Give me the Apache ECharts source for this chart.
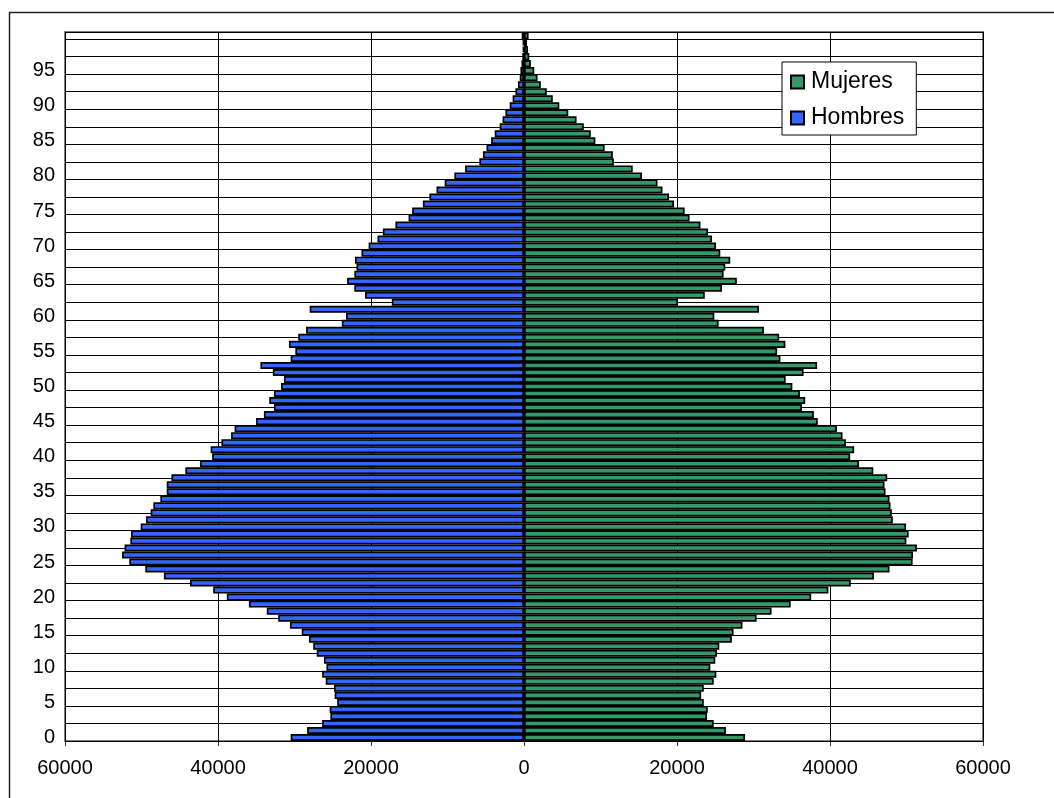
<!DOCTYPE html>
<html>
<head>
<meta charset="utf-8">
<title>Pirámide de población</title>
<script src="https://cdn.jsdelivr.net/npm/echarts@6/dist/echarts.min.js"></script>
<style>
  html, body { margin: 0; padding: 0; background: #ffffff; }
  #chart { width: 1054px; height: 798px; }
</style>
</head>
<body>
<div id="chart"></div>
<script>
// Single-year age groups, 0 to 100
const ages = [
  '0','1','2','3','4','5','6','7','8','9',
  '10','11','12','13','14','15','16','17','18','19',
  '20','21','22','23','24','25','26','27','28','29',
  '30','31','32','33','34','35','36','37','38','39',
  '40','41','42','43','44','45','46','47','48','49',
  '50','51','52','53','54','55','56','57','58','59',
  '60','61','62','63','64','65','66','67','68','69',
  '70','71','72','73','74','75','76','77','78','79',
  '80','81','82','83','84','85','86','87','88','89',
  '90','91','92','93','94','95','96','97','98','99',
  '100'
];

// Men per age (drawn to the left)
const hombres = [
  30500, 28350, 26390, 25310, 25400, 24420, 24750, 24840, 25920, 26390,
  25830, 26150, 27090, 27550, 28110, 29050, 30590, 32130, 33620, 35960,
  38850, 40630, 43660, 47070, 49500, 51600, 52540, 52210, 51460, 51370,
  50110, 49410, 48800, 48450, 47540, 46700, 46700, 46090, 44270, 42360,
  40770, 40960, 39550, 38290, 37830, 35030, 34000, 32690, 33300, 32690,
  31760, 31380, 32830, 34460, 30500, 29890, 30730, 29510, 28490, 23820,
  23260, 28020, 17280, 20780, 22180, 23120, 22180, 21900, 22100, 21250,
  20310, 19150, 18450, 16810, 15090, 14620, 13220, 12370, 11440, 10370,
  9100, 7700, 5840, 5370, 4900, 4300, 3830, 3180, 2800, 2430,
  1870, 1490, 1120, 790, 560, 470, 330, 230, 150, 150,
  300
];

// Women per age (drawn to the right)
const mujeres = [
  28900, 26400, 24800, 23930, 24020, 23500, 23160, 23500, 24800, 25140,
  24360, 25010, 25230, 25530, 27170, 27390, 28560, 30410, 32360, 34860,
  37540, 39790, 42720, 45750, 47780, 50800, 50850, 51360, 49980, 50280,
  49940, 48210, 48080, 47910, 47780, 47260, 47130, 47480, 45660, 43800,
  42640, 43160, 42080, 41640, 40910, 38400, 37890, 36330, 36760, 36070,
  35080, 34210, 36550, 38320, 33520, 33090, 34170, 33350, 31360, 25440,
  24880, 30720, 20130, 23630, 25880, 27820, 26090, 26310, 26960, 25660,
  25100, 24580, 24060, 23070, 21640, 21000, 19610, 18960, 18100, 17450,
  15420, 14210, 11750, 11620, 10540, 9330, 8730, 7820, 6870, 5790,
  4620, 3760, 2980, 2200, 1770, 1340, 900, 690, 520, 390,
  600
];

const seriesNames = ['Mujeres', 'Hombres'];
const FONT = '"Liberation Sans", Arial, sans-serif';

const chart = echarts.init(document.getElementById('chart'), null, { renderer: 'canvas' });

chart.setOption({
  animation: false,
  backgroundColor: '#ffffff',
  textStyle: { fontFamily: FONT },
  graphic: [{
    type: 'rect',
    silent: true,
    z: -10,
    shape: { x: 9.5, y: 12.5, width: 1100, height: 900 },
    style: { fill: 'none', stroke: '#222222', lineWidth: 1.5 }
  }],
  grid: {
    left: 65, right: 71, top: 32, bottom: 57,
    show: true,
    backgroundColor: 'transparent',
    borderColor: '#808080',
    borderWidth: 2
  },
  legend: {
    data: seriesNames,
    orient: 'vertical',
    left: 782,
    top: 62,
    padding: [7, 12, 4, 8],
    itemGap: 10,
    itemWidth: 13,
    itemHeight: 13,
    icon: 'rect',
    backgroundColor: '#ffffff',
    borderColor: '#000000',
    borderWidth: 1,
    borderRadius: 0,
    textStyle: { fontFamily: FONT, fontSize: 23, color: '#000000', lineHeight: 26, padding: [0, 0, 0, 2] }
  },
  xAxis: {
    type: 'value',
    min: -60000,
    max: 60000,
    interval: 20000,
    axisLine: { show: false },
    axisTick: { show: true, length: 5, lineStyle: { color: '#333333', width: 1 } },
    axisLabel: {
      formatter: v => String(Math.abs(v)),
      fontFamily: FONT, fontSize: 20, color: '#000000', margin: 17
    },
    splitLine: { show: true, lineStyle: { color: '#000000', width: 1 } }
  },
  yAxis: [
    {
      type: 'category',
      data: ages,
      axisLine: { show: false },
      axisTick: { show: false },
      splitLine: { show: false },
      axisLabel: {
        interval: (index) => index % 5 === 0 && index < 100,
        fontFamily: FONT, fontSize: 20, color: '#000000', margin: 10
      }
    },
    {
      // horizontal rules every two and a half years
      type: 'value',
      position: 'right',
      min: 0,
      max: 101,
      interval: 2.5,
      axisLine: { show: false },
      axisTick: { show: false },
      axisLabel: { show: false },
      splitLine: { show: true, lineStyle: { color: '#000000', width: 1 } }
    }
  ],
  series: [
    {
      name: 'Mujeres',
      type: 'bar',
      yAxisIndex: 0,
      data: mujeres,
      barGap: '-100%',
      barCategoryGap: '0%',
      itemStyle: { color: '#339966', borderColor: '#000000', borderWidth: 1.7 }
    },
    {
      name: 'Hombres',
      type: 'bar',
      yAxisIndex: 0,
      data: hombres.map(v => -v),
      barGap: '-100%',
      barCategoryGap: '0%',
      itemStyle: { color: '#3366FF', borderColor: '#000000', borderWidth: 1.7 }
    }
  ]
});
</script>
</body>
</html>
